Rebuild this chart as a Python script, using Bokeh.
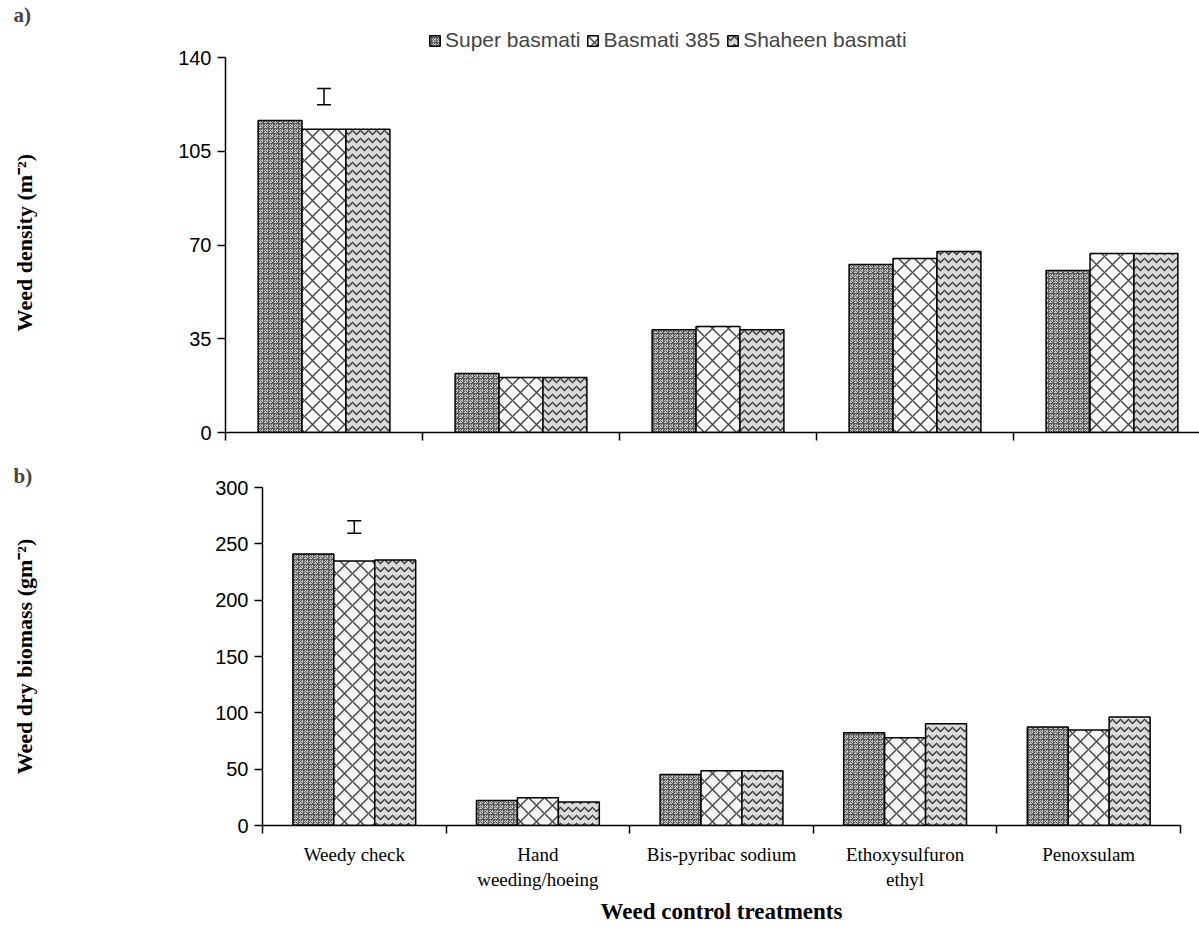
from bokeh.plotting import figure
from bokeh.models import (ColumnDataSource, FixedTicker, Legend, LegendItem, Title,
                          Whisker, TeeHead, Range1d)
from bokeh.layouts import column
from bokeh.transform import dodge
from bokeh.embed import file_html
from bokeh.resources import INLINE

# ---------------- data ----------------
treatments = ["Weedy check", "Hand\nweeding/hoeing", "Bis-pyribac sodium",
              "Ethoxysulfuron\nethyl", "Penoxsulam"]
varieties = ["Super basmati", "Basmati 385", "Shaheen basmati"]

density_super = [116.5, 22.0, 38.4, 62.7, 60.5]
density_b385 = [113.2, 20.5, 39.6, 65.0, 66.8]
density_shaheen = [113.2, 20.5, 38.4, 67.6, 66.8]

biomass_super = [240.9, 22.1, 45.3, 82.3, 87.4]
biomass_b385 = [234.7, 24.7, 48.5, 77.9, 84.7]
biomass_shaheen = [235.6, 20.9, 48.5, 90.3, 96.2]

density_lsd = [122.4, 128.4]   # LSD bar (lower, upper)
biomass_lsd = [259.5, 270.5]

density_ticks = [0, 35, 70, 105, 140]
biomass_ticks = [0, 50, 100, 150, 200, 250, 300]

# ---------------- styling ----------------
SANS = "Liberation Sans"
SERIF = "Liberation Serif"
styles = [
    dict(fill_color="#c4c4c4", hatch_pattern="criss_cross", hatch_color="#5a5a5a",
         hatch_scale=5, hatch_weight=1),
    dict(fill_color="#f6f6f6", hatch_pattern="diagonal_cross", hatch_color="#4a4a4a",
         hatch_scale=16, hatch_weight=1.5),
    dict(fill_color="#dadada", hatch_pattern="horizontal_wave", hatch_color="#3c3c3c",
         hatch_scale=8, hatch_weight=1.5),
]
BW = 0.223
offsets = [-BW, 0.0, BW]
pos = [i + 0.5 for i in range(len(treatments))]


def style_y(p, ticks, label, standoff):
    ax = p.yaxis[0]
    ax.ticker = FixedTicker(ticks=ticks)
    ax.bounds = (ticks[0], ticks[-1])
    ax.major_tick_out = 8
    ax.major_tick_in = 0
    ax.minor_tick_out = 0
    ax.minor_tick_in = 0
    ax.axis_line_width = 1.5
    ax.major_tick_line_width = 1.5
    ax.major_label_text_font = SANS
    ax.major_label_text_font_size = "20px"
    ax.major_label_text_color = "black"
    ax.major_label_standoff = 6
    ax.axis_label = label
    ax.axis_label_text_font = SERIF
    ax.axis_label_text_font_style = "bold"
    ax.axis_label_text_font_size = "22px"
    ax.axis_label_text_color = "black"
    ax.axis_label_standoff = standoff


def make_panel(series, lsd, y_end, ticks, ylabel, w, h, left, right, top, bottom,
               x_end, ystand):
    p = figure(width=w, height=h, output_backend="svg", toolbar_location=None,
               x_range=Range1d(0, x_end), y_range=Range1d(0, y_end),
               min_border_left=left, min_border_right=right,
               min_border_top=top, min_border_bottom=bottom, frame_align=False)
    p.outline_line_color = None
    p.grid.visible = False
    p.background_fill_color = "white"
    src = ColumnDataSource(dict(pos=pos, s0=series[0], s1=series[1], s2=series[2]))
    rends = []
    for k in range(3):
        r = p.vbar(x=dodge("pos", offsets[k]), top="s%d" % k, bottom=0, width=BW,
                   source=src, line_color="black", line_width=1.5, **styles[k])
        rends.append(r)
    wsrc = ColumnDataSource(dict(x=[pos[0]], lower=[lsd[0]], upper=[lsd[1]]))
    p.add_layout(Whisker(base="x", lower="lower", upper="upper", source=wsrc,
                         dimension="height", line_width=1.5,
                         upper_head=TeeHead(size=14, line_width=1.5),
                         lower_head=TeeHead(size=14, line_width=1.5)))
    style_y(p, ticks, ylabel, ystand)
    return p, rends


# ---------------- panel a ----------------
# frame spans canvas y 26..432; value 140 sits at y=57 (room for the legend above it)
pa_top_extra = 140 * (432 - 26) / (432 - 57)
pa, rends = make_panel([density_super, density_b385, density_shaheen], density_lsd,
                       pa_top_extra, density_ticks,
                       "Weed density (m\u207b\u00b2)\u2003\u2009",
                       1199, 461, 225, 0, 0, 29, (1199 - 225) / 197.0, 138)
xa = pa.xaxis[0]
xa.ticker = FixedTicker(ticks=[0, 1, 2, 3, 4, 5])
xa.major_label_text_font_size = "1px"
xa.major_label_text_alpha = 0
xa.major_tick_out = 8
xa.major_tick_in = 0
xa.minor_tick_out = 0
xa.minor_tick_in = 0
xa.axis_line_width = 1.5
xa.major_tick_line_width = 1.5

legend = Legend(items=[LegendItem(label=varieties[k], renderers=[rends[k]]) for k in range(3)],
                orientation="horizontal", location=(203, 380),
                label_text_font=SANS, label_text_font_size="21px",
                glyph_width=13, glyph_height=13, spacing=6, label_standoff=4,
                padding=0, margin=0, border_line_color=None,
                background_fill_alpha=0)
pa.add_layout(legend, "center")
pa.add_layout(Title(text="a)", align="left", offset=-212, standoff=0,
                    text_font=SERIF, text_font_style="bold", text_font_size="21px"),
              "above")

# ---------------- panel b ----------------
pb, _ = make_panel([biomass_super, biomass_b385, biomass_shaheen], biomass_lsd,
                   300, biomass_ticks, "Weed dry biomass (gm\u207b\u00b2)",
                   1199, 933 - 461, 262, 19, 0, 108, 5, 175)
xb = pb.xaxis[0]
xb.ticker = FixedTicker(ticks=pos, minor_ticks=[0, 1, 2, 3, 4, 5])
xb.major_label_overrides = {pos[i]: treatments[i] for i in range(len(treatments))}
xb.major_tick_out = 0
xb.major_tick_in = 0
xb.minor_tick_out = 8
xb.minor_tick_in = 0
xb.minor_tick_line_width = 1.5
xb.axis_line_width = 1.5
xb.major_label_text_font = SERIF
xb.major_label_text_font_size = "19px"
xb.major_label_text_color = "black"
xb.major_label_standoff = 10
xb.axis_label = "Weed control treatments"
xb.axis_label_text_font = SERIF
xb.axis_label_text_font_style = "bold"
xb.axis_label_text_font_size = "23px"
xb.axis_label_text_color = "black"
xb.axis_label_standoff = 6
pb.add_layout(Title(text="b)", align="left", offset=-249, standoff=0,
                    text_font=SERIF, text_font_style="bold", text_font_size="21px"),
              "above")

layout = column(pa, pb, spacing=0)
open("out.html", "w").write(file_html(layout, INLINE))
